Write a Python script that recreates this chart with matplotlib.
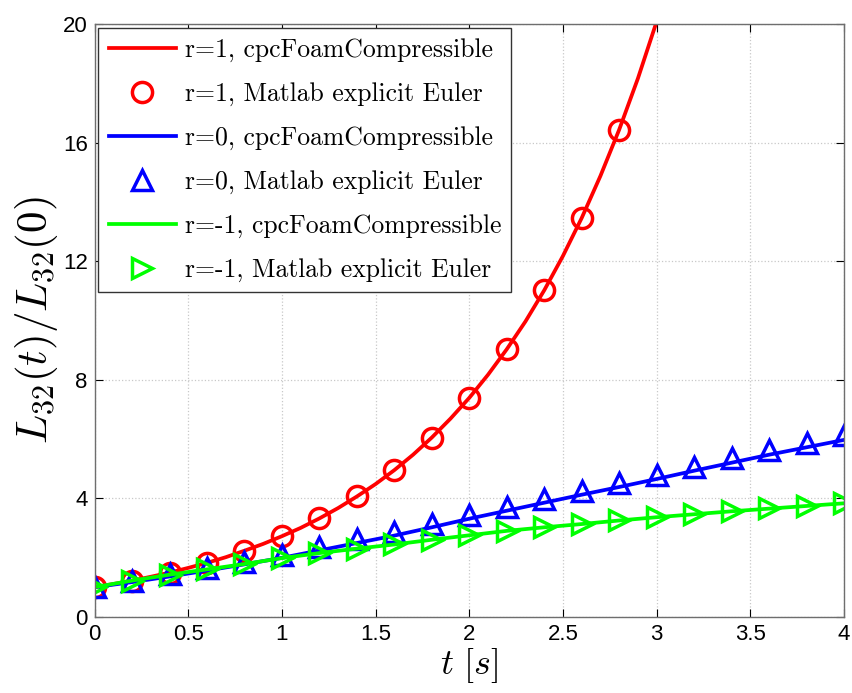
import matplotlib
matplotlib.use("Agg")
import matplotlib.pyplot as plt
from matplotlib.ticker import FuncFormatter

plt.rcParams['mathtext.fontset'] = 'cm'
plt.rcParams['axes.unicode_minus'] = False

# ---- data ----
t_line_r1 = [0.0, 0.1, 0.2, 0.3, 0.4, 0.5, 0.6, 0.7, 0.8, 0.9, 1.0, 1.1, 1.2, 1.3, 1.4, 1.5,
             1.6, 1.7, 1.8, 1.9, 2.0, 2.1, 2.2, 2.3, 2.4, 2.5, 2.6, 2.7, 2.8, 2.9, 3.0, 3.05]
y_line_r1 = [1.00, 1.105, 1.22, 1.35, 1.49, 1.65, 1.82, 2.01, 2.23, 2.46, 2.72, 3.00, 3.32, 3.67,
             4.06, 4.48, 4.95, 5.47, 6.05, 6.69, 7.39, 8.17, 9.03, 9.97, 11.02, 12.18, 13.46,
             14.88, 16.44, 18.17, 20.09, 21.1]
t_pts_r1 = [0.0, 0.2, 0.4, 0.6, 0.8, 1.0, 1.2, 1.4, 1.6, 1.8, 2.0, 2.2, 2.4, 2.6, 2.8]
y_pts_r1 = [1.00, 1.22, 1.49, 1.82, 2.23, 2.72, 3.32, 4.06, 4.95, 6.05, 7.39, 9.03, 11.02, 13.46, 16.44]

t_grid = [0.0, 0.2, 0.4, 0.6, 0.8, 1.0, 1.2, 1.4, 1.6, 1.8, 2.0, 2.2, 2.4, 2.6, 2.8,
          3.0, 3.2, 3.4, 3.6, 3.8, 4.0]
y_line_r0 = [1.00, 1.17, 1.36, 1.56, 1.77, 1.99, 2.24, 2.49, 2.74, 3.02, 3.31, 3.58, 3.85,
             4.12, 4.38, 4.65, 4.93, 5.20, 5.47, 5.72, 5.97]
y_pts_r0 = [1.00, 1.22, 1.43, 1.64, 1.86, 2.09, 2.35, 2.61, 2.86, 3.14, 3.43, 3.70, 3.98,
            4.25, 4.52, 4.79, 5.07, 5.35, 5.62, 5.88, 6.13]
y_line_rm1 = [1.00, 1.22, 1.42, 1.60, 1.78, 1.98, 2.15, 2.30, 2.44, 2.60, 2.75, 2.90, 3.02,
              3.13, 3.25, 3.36, 3.46, 3.56, 3.65, 3.74, 3.83]
y_pts_rm1 = [1.00, 1.22, 1.42, 1.60, 1.78, 1.98, 2.15, 2.30, 2.45, 2.60, 2.76, 2.91, 3.03,
             3.14, 3.26, 3.37, 3.47, 3.57, 3.66, 3.75, 3.85]

labels = ["r=1, cpcFoamCompressible", "r=1, Matlab explicit Euler",
          "r=0, cpcFoamCompressible", "r=0, Matlab explicit Euler",
          "r=-1, cpcFoamCompressible", "r=-1, Matlab explicit Euler"]
x_ticks = [0, 0.5, 1, 1.5, 2, 2.5, 3, 3.5, 4]
y_ticks = [0, 4, 8, 12, 16, 20]

# ---- figure ----
fig = plt.figure(figsize=(8.52, 6.93), dpi=100)
ax = fig.add_axes([0.111, 0.110, 0.8796, 0.855])

lw = 2.7
ms = 14.5
mew = 2.5
red, blue, green = (1, 0, 0), (0, 0, 1), (0, 1, 0)

ax.plot(t_line_r1, y_line_r1, '-', color=red, lw=lw, label=labels[0])
ax.plot(t_pts_r1, y_pts_r1, 'o', color=red, ms=ms, mew=mew, mfc='none', label=labels[1])
ax.plot(t_grid, y_line_r0, '-', color=blue, lw=lw, label=labels[2])
ax.plot(t_grid, y_pts_r0, '^', color=blue, ms=ms, mew=mew, mfc='none', label=labels[3])
ax.plot(t_grid, y_line_rm1, '-', color=green, lw=lw, label=labels[4])
ax.plot(t_grid, y_pts_rm1, '>', color=green, ms=ms, mew=mew, mfc='none', label=labels[5])

ax.set_xlim(0, 4)
ax.set_ylim(0, 20)
ax.set_xticks(x_ticks)
ax.set_yticks(y_ticks)
ax.xaxis.set_major_formatter(FuncFormatter(lambda v, p: ('%g' % v)))
ax.tick_params(direction='in', length=6, width=0.8, top=True, right=True,
               labelsize=16, pad=5)
for lab in ax.get_xticklabels() + ax.get_yticklabels():
    lab.set_family(['Liberation Sans', 'DejaVu Sans'])
ax.grid(True, linestyle=':', color='#c8c8c8', linewidth=0.9)
for s in ax.spines.values():
    s.set_color('#6e6e6e')
    s.set_linewidth(1.0)

ax.set_xlabel(r'$t\ [s]$', fontsize=26, labelpad=1)
ax.set_ylabel(r'$L_{32}(t)/L_{32}(0)$', fontsize=31, labelpad=2)

leg = ax.legend(loc='upper left', prop={'family': 'cmr10', 'size': 18.5},
                fancybox=False, framealpha=1, edgecolor='#333333',
                borderaxespad=0.15, handlelength=2.6, labelspacing=0.78,
                borderpad=0.4, handletextpad=0.35)
leg.get_frame().set_linewidth(1.0)

fig.savefig('out.png', dpi=100)
